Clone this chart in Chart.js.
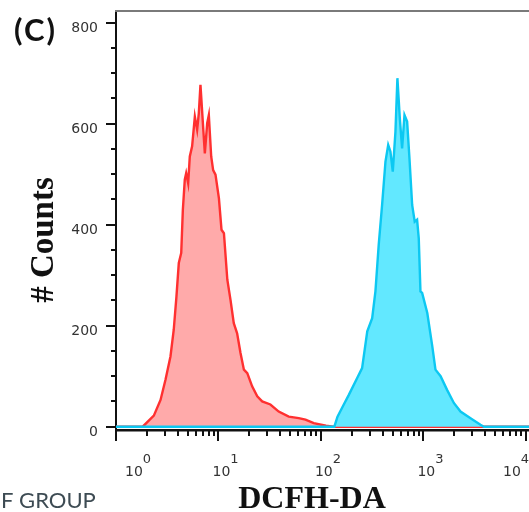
<!DOCTYPE html>
<html>
<head>
<meta charset="utf-8">
<title>DCFH-DA histogram</title>
<script src="https://cdn.jsdelivr.net/npm/chart.js@4.4.1/dist/chart.umd.min.js"></script>
<style>
  html, body { margin: 0; padding: 0; background: #fff; overflow: hidden; }
  #wrap { width: 529px; height: 512px; overflow: hidden; }
  canvas { display: block; }
</style>
</head>
<body>
<div id="wrap"><canvas id="chart" width="560" height="512"></canvas></div>
<script>
// DCFH-DA fluorescence (log axis) against number of events
const redLevels = [1, 1.82, 2.34, 2.72, 3.04, 3.40, 3.66, 3.89, 4.10, 4.33,
  4.49, 4.69, 4.84, 5.06, 5.25, 5.53, 5.88, 6.19, 6.43, 6.67,
  7.08, 7.36, 7.76, 8.05, 8.49, 8.87, 9.35, 10.1, 10.7, 11.3,
  12.2, 13.1, 14.1, 15.2, 16.4, 17.7, 19.1, 21.3, 23.9, 26.7,
  32.1, 38.7, 48.5, 60.7, 70.6, 85.1, 112, 132, 21500];
const redCounts = [0, 0, 22, 53, 93, 139, 192, 258, 324, 344,
  429, 489, 502, 482, 535, 555, 614, 588, 621, 677,
  594, 541, 601, 617, 535, 508, 499, 452, 390, 383,
  291, 251, 205, 185, 146, 113, 106, 80, 60, 50,
  44, 30, 20, 17, 14, 7, 2, 0, 0];

const blueLevels = [1, 135, 145, 167, 187, 225, 252, 283, 316, 340,
  366, 395, 426, 453, 476, 502, 533, 557, 588, 619,
  653, 693, 730, 776, 822, 867, 900, 935, 971, 1090,
  1220, 1310, 1470, 1700, 1980, 2300, 2880, 3600, 3890, 21500];
const blueCounts = [0, 0, 20, 44, 63, 96, 116, 189, 215, 268,
  360, 439, 525, 558, 545, 505, 584, 690, 611, 551,
  617, 604, 532, 439, 406, 410, 373, 268, 265, 225,
  159, 113, 100, 73, 47, 30, 17, 4, 0, 0];

const yTicks = [0, 200, 400, 600, 800];
const yMinorStep = 50;
const decades = [1, 10, 100, 1000, 10000];

const toPoints = (xs, ys) => xs.map((v, i) => ({ x: v, y: ys[i] }));

// frame, tick marks, decade labels and the titles
const decorations = {
  id: 'decorations',
  afterDraw(chart) {
    const { ctx, chartArea: area, scales: { x, y } } = chart;
    ctx.save();

    ctx.strokeStyle = '#7a7a7a';
    ctx.lineWidth = 2;
    ctx.beginPath();
    ctx.moveTo(area.left - 1, area.top);
    ctx.lineTo(area.right, area.top);
    ctx.stroke();

    ctx.strokeStyle = '#111';
    ctx.lineWidth = 2;
    ctx.beginPath();
    for (let v = 0; v <= yTicks[yTicks.length - 1]; v += yMinorStep) {
      const py = Math.round(y.getPixelForValue(v));
      const len = yTicks.includes(v) ? 10 : 5;
      ctx.moveTo(area.left - len, py);
      ctx.lineTo(area.left, py);
    }
    ctx.stroke();

    ctx.beginPath();
    decades.forEach(d => {
      for (let m = 1; m <= 9; m++) {
        const v = d * m;
        if (v > x.max) break;
        const px = Math.round(x.getPixelForValue(v));
        const len = m === 1 ? 11 : 6;
        ctx.moveTo(px, area.bottom);
        ctx.lineTo(px, area.bottom + len);
      }
    });
    ctx.stroke();

    ctx.fillStyle = '#333';
    ctx.textAlign = 'left';
    ctx.textBaseline = 'alphabetic';
    decades.forEach((d, k) => {
      const px = x.getPixelForValue(d);
      const bx = Math.min(Math.max(px - 6, area.left + 9), 503);
      ctx.font = '14px "DejaVu Sans"';
      ctx.fillText('10', bx, 476);
      const w = ctx.measureText('10').width;
      ctx.font = '13px "DejaVu Sans"';
      ctx.fillText(String(k), bx + w, 463);
    });

    ctx.fillStyle = '#111';
    ctx.font = 'bold 32px "Liberation Serif"';
    ctx.textAlign = 'center';
    ctx.fillText('DCFH-DA', 312, 508);

    ctx.save();
    ctx.translate(53, 240);
    ctx.rotate(-Math.PI / 2);
    ctx.font = 'bold 33px "Liberation Serif"';
    ctx.fillText('# Counts', 0, 0);
    ctx.restore();

    ctx.textAlign = 'left';
    ctx.font = 'bold 31px Lato';
    ctx.letterSpacing = '2px';
    ctx.fillText('(C)', 14, 41);
    ctx.letterSpacing = '0px';

    ctx.fillStyle = '#3d4b53';
    ctx.font = '22px Lato';
    ctx.fillText('F GROUP', 1, 508);

    ctx.restore();
  }
};

const chart = document.querySelector('#chart').getContext('2d');

new Chart(chart, {
  type: 'line',
  data: {
    datasets: [
      {
        label: 'DCFH-DA treated',
        data: toPoints(blueLevels, blueCounts),
        borderColor: '#0cc8f2',
        backgroundColor: '#62e8ff',
        borderWidth: 2.4,
        fill: 'origin',
        pointRadius: 0,
        tension: 0,
        order: 0
      },
      {
        label: 'Control',
        data: toPoints(redLevels, redCounts),
        borderColor: '#ff3030',
        backgroundColor: '#ffaaaa',
        borderWidth: 2.4,
        fill: 'origin',
        pointRadius: 0,
        tension: 0,
        order: 1
      }
    ]
  },
  options: {
    responsive: false,
    animation: false,
    events: [],
    layout: { padding: { top: 11, left: 0, right: 0, bottom: 0 } },
    plugins: {
      legend: { display: false },
      tooltip: { enabled: false }
    },
    scales: {
      x: {
        type: 'logarithmic',
        min: 1,
        max: 21500,
        grid: { display: false },
        ticks: { display: false },
        border: { display: true, color: '#111', width: 2.5 },
        afterFit: (scale) => {
          scale.height = 82;
          scale.paddingLeft = 0;
          scale.paddingRight = 0;
        }
      },
      y: {
        type: 'linear',
        min: -6.5,
        max: 823,
        grid: { display: false, drawTicks: false },
        border: { display: true, color: '#111', width: 2 },
        afterBuildTicks: (scale) => { scale.ticks = yTicks.map(v => ({ value: v })); },
        ticks: {
          padding: 18,
          labelOffset: 6,
          color: '#333',
          font: { family: 'DejaVu Sans', size: 14 }
        },
        afterFit: (scale) => {
          scale.width = 116;
          scale.paddingTop = 0;
          scale.paddingBottom = 0;
        }
      }
    }
  },
  plugins: [decorations]
});
</script>
</body>
</html>
